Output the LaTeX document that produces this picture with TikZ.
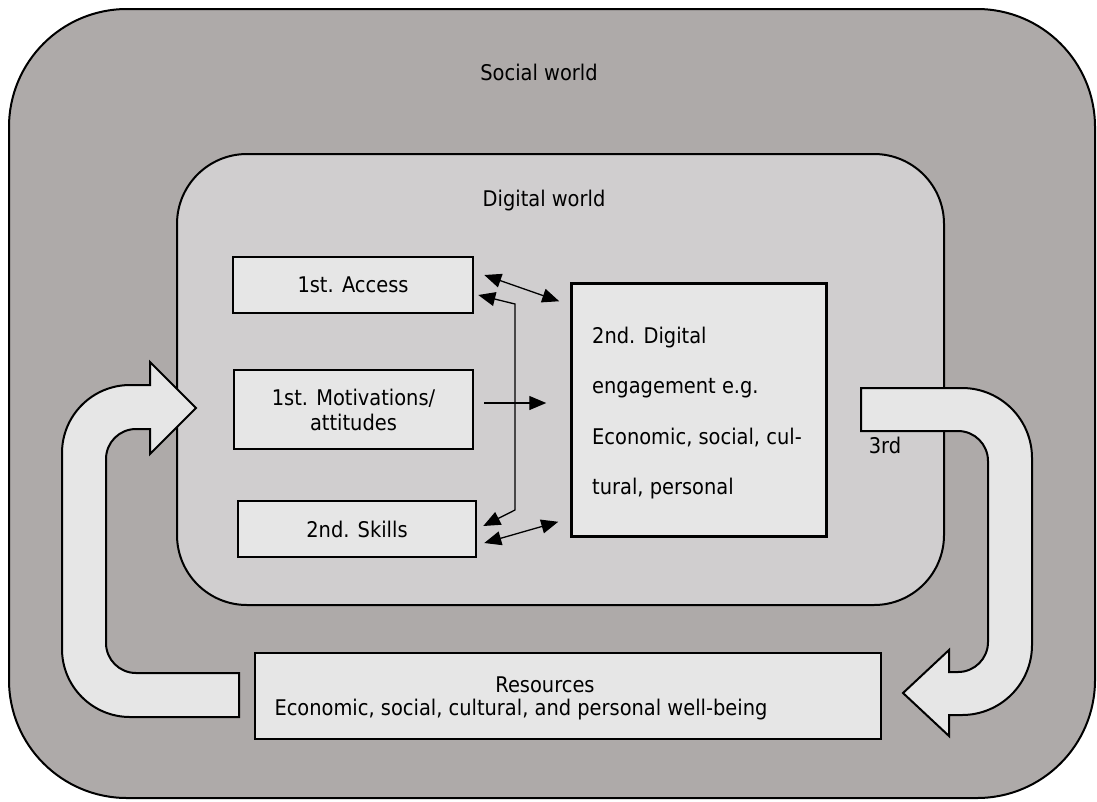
\documentclass[tikz,border=0pt]{standalone}
\usepackage{fontspec}
\setmainfont{DejaVu Sans Condensed}
\usetikzlibrary{arrows.meta,calc}
\definecolor{outerc}{RGB}{174,170,169}
\definecolor{innerc}{RGB}{208,206,207}
\definecolor{boxc}{RGB}{230,230,230}
\tikzset{
  world/.style={draw=black, line width=2pt, inner sep=0pt},
  stagebox/.style={draw=black, fill=boxc, line width=2.5pt, inner sep=0pt, align=center, font=\fontsize{21.6}{25}\selectfont},
  lbl/.style={inner sep=0pt, font=\fontsize{21.6}{25}\selectfont},
  blockarrow/.style={draw=black, fill=boxc, line width=2pt, line join=miter},
  conn/.style={draw=black, line width=1.3pt, -{Triangle[length=17pt,width=14pt]}},
  dconn/.style={draw=black, line width=1.3pt, {Triangle[length=17pt,width=14pt]}-{Triangle[length=17pt,width=14pt]}}
}
\begin{document}
\begin{tikzpicture}[x=1pt,y=-1pt]
\useasboundingbox (0,0) rectangle (1097,801);
% containers
\node[world, fill=outerc, rounded corners=118pt, minimum width=1086pt, minimum height=789pt] (social) at (552,403.5) {};
\node[lbl] (sociallbl) at (539,72) {Social world};
\node[world, fill=innerc, rounded corners=70pt, minimum width=767pt, minimum height=451pt] (digital) at (560.5,379.5) {};
\node[lbl] (digitallbl) at (544,201) {Digital world};
% block arrows
\draw[blockarrow] (239,717) -- (130,717) arc[start angle=90,end angle=180,radius=68]
  -- (62,453) arc[start angle=180,end angle=270,radius=68]
  -- (150,385) -- (150,362) -- (196,408) -- (150,454) -- (150,429) -- (136,429)
  arc[start angle=270,end angle=180,radius=30] -- (106,643)
  arc[start angle=180,end angle=90,radius=30] -- (239,673) -- cycle;
\draw[blockarrow] (861,388) -- (962,388) arc[start angle=270,end angle=360,radius=70]
  -- (1032,645) arc[start angle=0,end angle=90,radius=70]
  -- (949,715) -- (949,736) -- (903,693) -- (949,650) -- (949,672) -- (958,672)
  arc[start angle=90,end angle=0,radius=30] -- (988,461)
  arc[start angle=0,end angle=-90,radius=30] -- (861,431) -- cycle;
\node[lbl] (third) at (885,445) {3rd};
% stage boxes
\node[stagebox, minimum width=240pt, minimum height=56pt] (acc) at (353,285) {1st. Access};
\node[stagebox, minimum width=239pt, minimum height=79pt] (mot) at (353.5,409.5) {1st. Motivations/\\attitudes};
\node[stagebox, minimum width=238pt, minimum height=56pt] (skl) at (357,529) {2nd. Skills};
\node[stagebox, minimum width=255pt, minimum height=253pt] (eng) at (699,410) {};
\node[lbl, anchor=west, align=left, font=\fontsize{21.6}{50.3}\selectfont] (engtext) at (592,413) {2nd. Digital\\engagement e.g.\\Economic, social, cul-\\tural, personal};
\node[stagebox, minimum width=626pt, minimum height=86pt] (res) at (568,696) {};
\node[lbl] (reslbl1) at (545,685) {Resources};
\node[lbl] (reslbl2) at (521,710) {Economic, social, cultural, and personal well-being};
% connectors
\coordinate (bt) at (515,304);
\coordinate (bb) at (515,510);
\draw[dconn] ($(acc.east)+(10,-10)$) -- ($(eng.north west)+(-11,19)$);
\draw[dconn] ($(acc.east)+(4,10)$) -- (bt) -- (bb) -- ($(skl.east)+(6,-3)$);
\draw[conn] ($(mot.east)+(10,-6.5)$) -- ($(eng.west)+(-24,-7)$);
\draw[dconn] ($(skl.east)+(7,14)$) -- ($(eng.south west)+(-12,-16)$);
\end{tikzpicture}
\end{document}
